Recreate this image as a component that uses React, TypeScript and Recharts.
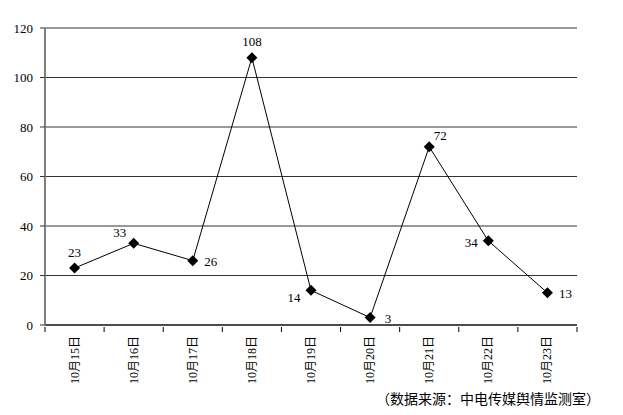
import { LineChart, Line, XAxis, YAxis, CartesianGrid, LabelList } from "recharts";

// daily counts, 10月15日 – 10月23日
const dates = ["10月15日", "10月16日", "10月17日", "10月18日", "10月19日", "10月20日", "10月21日", "10月22日", "10月23日"];
const counts = [23, 33, 26, 108, 14, 3, 72, 34, 13];
const yTicks = [0, 20, 40, 60, 80, 100, 120];
// where each value label sits around its point
const labelSides = ["top", "topLeft", "right", "top", "left", "right", "topRight", "left", "right"];
const sourceNote = "（数据来源：中电传媒舆情监测室）";

const rows = dates.map((date, i) => ({ date, count: counts[i] }));

const serif = "'Liberation Serif', 'Times New Roman', 'Noto Sans CJK SC', serif";

const sideOffsets: Record<string, [number, number]> = {
  top: [0, -16],
  topLeft: [-14, -11],
  topRight: [11, -11],
  right: [18, 1],
  left: [-17, 2],
};

const Diamond = (props: any) => {
  const { cx, cy } = props;
  if (cx == null || cy == null) return null;
  const r = 5.5;
  return (
    <polygon
      points={`${cx},${cy - r} ${cx + r},${cy} ${cx},${cy + r} ${cx - r},${cy}`}
      fill="#000"
    />
  );
};

const ValueLabel = (props: any) => {
  const { x, y, value, index } = props;
  const side = labelSides[index] ?? "top";
  let [dx, dy] = sideOffsets[side];
  if (side === "left" && index === 4) dy = 7;
  return (
    <text
      x={x + dx}
      y={y + dy}
      textAnchor="middle"
      dominantBaseline="central"
      style={{ fontSize: 13, fontFamily: serif, fill: "#000" }}
    >
      {value}
    </text>
  );
};

const DateTick = (props: any) => {
  const { x, y, payload, index } = props;
  const half = payload?.offset || 29.5;
  const ty = y + 9;
  return (
    <g>
      <line x1={x - half} y1={y} x2={x - half} y2={y + 5} stroke="#000" />
      {index === dates.length - 1 && (
        <line x1={x + half} y1={y} x2={x + half} y2={y + 5} stroke="#000" />
      )}
      <text
        x={x}
        y={ty}
        transform={`rotate(-90 ${x} ${ty})`}
        textAnchor="end"
        dominantBaseline="central"
        style={{ fontSize: 12, fontFamily: serif, fill: "#000" }}
      >
        {payload.value}
      </text>
    </g>
  );
};

const NumberTick = (props: any) => {
  const { x, y, payload } = props;
  return (
    <text
      x={x}
      y={y}
      textAnchor="end"
      dominantBaseline="central"
      style={{ fontSize: 13, fontFamily: serif, fill: "#000" }}
    >
      {payload.value}
    </text>
  );
};

export default function App() {
  return (
    <div style={{ position: "absolute", left: 0, top: 0, width: 623, height: 415, background: "#fff" }}>
      <LineChart width={623} height={415} data={rows} margin={{ top: 28, right: 46, bottom: 0, left: 0 }}>
        <CartesianGrid vertical={false} stroke="#333" />
        <XAxis
          dataKey="date"
          scale="band"
          interval={0}
          height={90}
          tickSize={0}
          tickLine={false}
          axisLine={{ stroke: "#000" }}
          tick={<DateTick />}
        />
        <YAxis
          domain={[0, 120]}
          ticks={yTicks}
          interval={0}
          width={45}
          tickSize={5}
          tickMargin={7}
          axisLine={{ stroke: "#808080", strokeWidth: 2 }}
          tickLine={{ stroke: "#333" }}
          tick={<NumberTick />}
        />
        <Line
          type="linear"
          dataKey="count"
          stroke="#000"
          strokeWidth={1}
          dot={<Diamond />}
          activeDot={false}
          isAnimationActive={false}
        >
          <LabelList dataKey="count" content={<ValueLabel />} />
        </Line>
      </LineChart>
      <div
        style={{
          position: "absolute",
          left: 376,
          top: 388,
          fontSize: 14,
          lineHeight: "20px",
          fontFamily: "'Noto Sans CJK SC', sans-serif",
          color: "#000",
          whiteSpace: "nowrap",
        }}
      >
        {sourceNote}
      </div>
    </div>
  );
}
